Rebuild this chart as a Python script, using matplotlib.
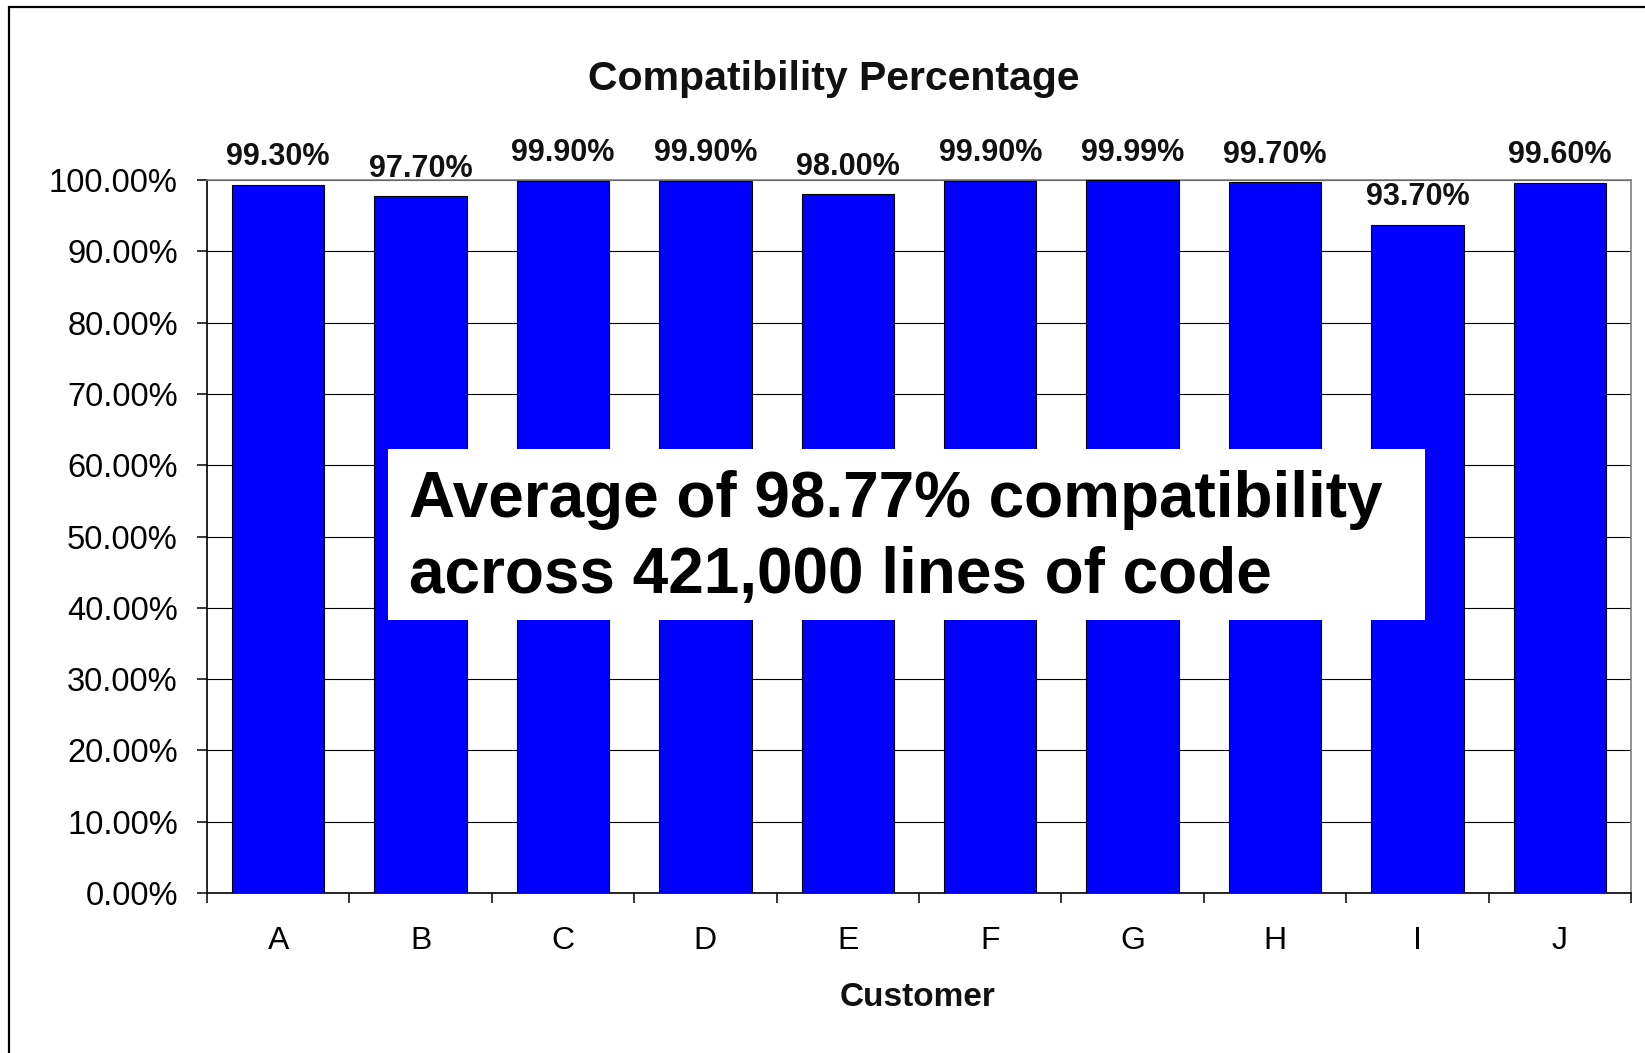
import matplotlib
matplotlib.use("Agg")
import matplotlib.pyplot as plt
import matplotlib.patches as patches
from matplotlib.ticker import FixedLocator, PercentFormatter

# data
customers = ["A", "B", "C", "D", "E", "F", "G", "H", "I", "J"]
compat = [99.30, 97.70, 99.90, 99.90, 98.00, 99.90, 99.99, 99.70, 93.70, 99.60]
y_ticks = [0, 10, 20, 30, 40, 50, 60, 70, 80, 90, 100]
note = "Average of 98.77% compatibility\nacross 421,000 lines of code"

plt.rcParams['font.family'] = ['Liberation Sans', 'DejaVu Sans']

W, H = 1645, 1053
fig = plt.figure(figsize=(W / 100, H / 100), dpi=100, facecolor='white')


def fx(px):
    return px / W


def fy(py):
    return 1 - py / H


ax = fig.add_axes([fx(207), fy(893), fx(1631) - fx(207), fy(180) - fy(893)])

x = list(range(len(customers)))
bars = ax.bar(x, compat, width=0.65, color='#0000ff', edgecolor='black',
              linewidth=0.8, zorder=3)
ax.bar_label(bars, labels=[f"{v:.2f}%" for v in compat], padding=9,
             fontsize=22, fontweight='bold', color='#111111', clip_on=False)

ax.set_xlim(-0.5, len(customers) - 0.5)
ax.set_ylim(0, 100)

# y axis
ax.set_yticks(y_ticks)
ax.yaxis.set_major_formatter(PercentFormatter(decimals=2))
ax.yaxis.grid(True, color='black', linewidth=0.8, zorder=0)
ax.tick_params(axis='y', direction='out', length=7, width=1.1, pad=14,
               labelsize=23.5, colors='black')

# x axis: labels at centres, tick marks between categories
ax.set_xticks(x)
ax.set_xticklabels(customers)
ax.xaxis.set_minor_locator(FixedLocator([i - 0.5 for i in range(len(customers) + 1)]))
ax.tick_params(axis='x', which='major', length=0, pad=24, labelsize=23)
ax.tick_params(axis='x', which='minor', direction='out', length=7, width=1.1)

for side in ('left', 'bottom'):
    ax.spines[side].set_color('black')
    ax.spines[side].set_linewidth(1.2)
for side in ('top', 'right'):
    ax.spines[side].set_color('#808080')
    ax.spines[side].set_linewidth(1.2)

fig.text(fx(834), fy(79), "Compatibility Percentage", ha='center', va='center',
         fontsize=29.5, fontweight='bold', color='#111111')
fig.text(fx(918), fy(998), "Customer", ha='center', va='center',
         fontsize=24, fontweight='bold', color='#111111')

# white call-out box with the summary text
box = patches.Rectangle((fx(388), fy(620)), fx(1425) - fx(388), fy(449) - fy(620),
                        transform=fig.transFigure, facecolor='white',
                        edgecolor='none', zorder=5)
fig.add_artist(box)
fig.text(fx(409), fy(538), note, ha='left', va='center', fontsize=46,
         fontweight='bold', color='black', linespacing=1.36, zorder=6)

# outer chart frame (right and bottom edges cut off in the reference)
frame = patches.Rectangle((fx(9), -0.05), 1.2, fy(7) + 0.05,
                          transform=fig.transFigure, facecolor='none',
                          edgecolor='black', linewidth=1.6)
fig.add_artist(frame)

fig.savefig('out.png', dpi=100, facecolor='white')
